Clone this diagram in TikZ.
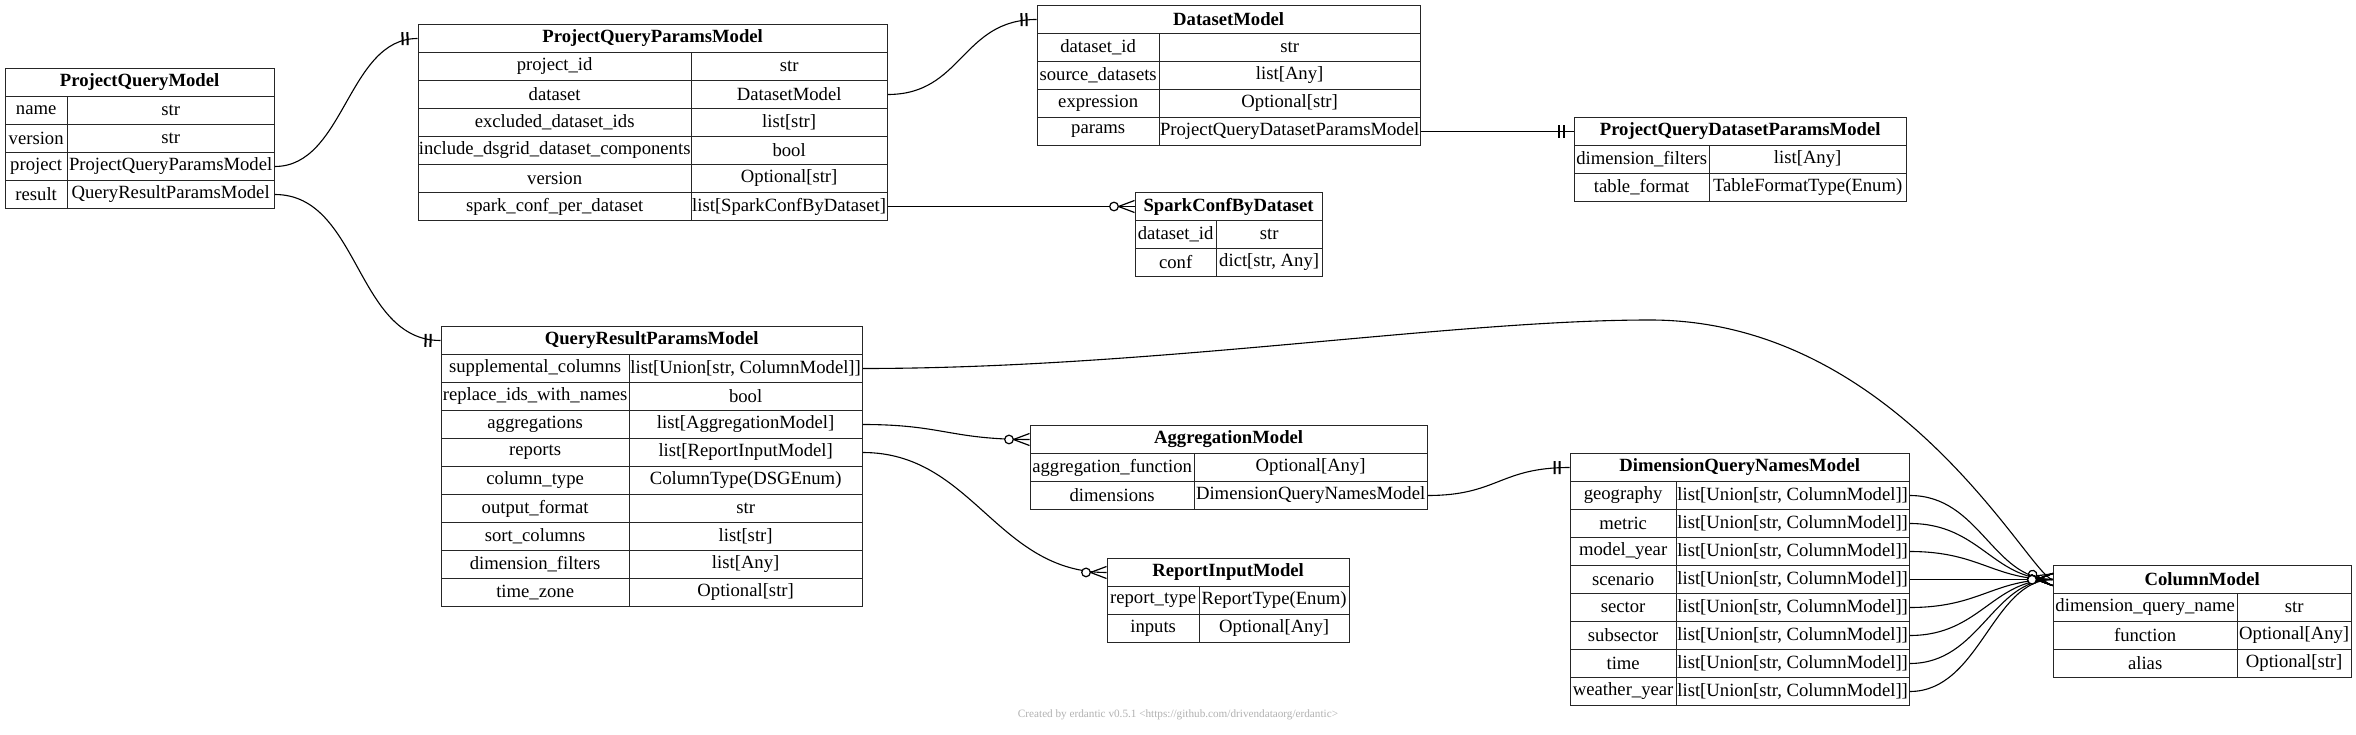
\documentclass[tikz,border=0pt]{standalone}
\usepackage{fontspec}
\setmainfont{Liberation Serif}
\usetikzlibrary{decorations.markings}
\def\rowh{28}

\begin{document}
\begin{tikzpicture}[x=1pt,y=-1pt]
    \tikzstyle{cell}=[draw=black!85,line width=1.3pt,minimum height=\rowh pt,inner sep=0pt,anchor=west,font=\fontsize{18.67}{22}\selectfont]
    \tikzstyle{title cell}=[cell,font=\fontsize{18.67}{22}\selectfont\bfseries]
    \tikzstyle{key cell}=[cell]
    \tikzstyle{type cell}=[cell]
    \tikzstyle{relation}=[draw=black,line width=1.1pt]
    \tikzstyle{exactly one}=[relation,postaction={decorate,decoration={markings,mark=at position -0.5pt with {\draw[line width=2pt] (-9.5pt,-6.5pt) -- (-9.5pt,6.5pt) (-14.5pt,-6.5pt) -- (-14.5pt,6.5pt);}}}]
    \tikzstyle{zero or many}=[relation,postaction={decorate,decoration={markings,mark=at position -0.5pt with {\draw[line width=1.2pt] (-15.5pt,0pt) -- (0.5pt,-6pt) (-15.5pt,0pt) -- (0.5pt,6pt); \draw[line width=1.2pt,fill=white] (-20pt,0pt) circle (4.3pt);}}}]

    \useasboundingbox[fill=white] (0,0) rectangle (2356,735);

    % Draw the ProjectQueryModel table
    \node[title cell, minimum width=269pt] (PQM) at (4.5,{68.5+0.5*\rowh}) {ProjectQueryModel};
    \foreach \field/\ftype [count=\i] in {name/str, version/str, project/ProjectQueryParamsModel, result/QueryResultParamsModel} {
        \node[key cell, minimum width=62pt] (PQM-k\i) at (4.5,{68.5+(\i+0.5)*\rowh}) {\field};
        \node[type cell, minimum width=207pt] (PQM-t\i) at (66.5,{68.5+(\i+0.5)*\rowh}) {\ftype};
    }

    % Draw the ProjectQueryParamsModel table
    \node[title cell, minimum width=469pt] (PQPM) at (417.5,{24.5+0.5*\rowh}) {ProjectQueryParamsModel};
    \foreach \field/\ftype [count=\i] in {project\_id/str, dataset/DatasetModel, excluded\_dataset\_ids/{list[str]}, include\_dsgrid\_dataset\_components/bool, version/{Optional[str]}, spark\_conf\_per\_dataset/{list[SparkConfByDataset]}} {
        \node[key cell, minimum width=273pt] (PQPM-k\i) at (417.5,{24.5+(\i+0.5)*\rowh}) {\field};
        \node[type cell, minimum width=196pt] (PQPM-t\i) at (690.5,{24.5+(\i+0.5)*\rowh}) {\ftype};
    }

    % Draw the DatasetModel table
    \node[title cell, minimum width=383pt] (DM) at (1036.5,{5.5+0.5*\rowh}) {DatasetModel};
    \foreach \field/\ftype [count=\i] in {dataset\_id/str, source\_datasets/{list[Any]}, expression/{Optional[str]}, params/ProjectQueryDatasetParamsModel} {
        \node[key cell, minimum width=122pt] (DM-k\i) at (1036.5,{5.5+(\i+0.5)*\rowh}) {\field};
        \node[type cell, minimum width=261pt] (DM-t\i) at (1158.5,{5.5+(\i+0.5)*\rowh}) {\ftype};
    }

    % Draw the ProjectQueryDatasetParamsModel table
    \node[title cell, minimum width=332pt] (PQDPM) at (1573.5,{117.5+0.5*\rowh}) {ProjectQueryDatasetParamsModel};
    \foreach \field/\ftype [count=\i] in {dimension\_filters/{list[Any]}, table\_format/{TableFormatType(Enum)}} {
        \node[key cell, minimum width=135pt] (PQDPM-k\i) at (1573.5,{117.5+(\i+0.5)*\rowh}) {\field};
        \node[type cell, minimum width=197pt] (PQDPM-t\i) at (1708.5,{117.5+(\i+0.5)*\rowh}) {\ftype};
    }

    % Draw the SparkConfByDataset table
    \node[title cell, minimum width=187pt] (SCBD) at (1134.5,{192.5+0.5*\rowh}) {SparkConfByDataset};
    \foreach \field/\ftype [count=\i] in {dataset\_id/str, conf/{dict[str, Any]}} {
        \node[key cell, minimum width=81pt] (SCBD-k\i) at (1134.5,{192.5+(\i+0.5)*\rowh}) {\field};
        \node[type cell, minimum width=106pt] (SCBD-t\i) at (1215.5,{192.5+(\i+0.5)*\rowh}) {\ftype};
    }

    % Draw the QueryResultParamsModel table
    \node[title cell, minimum width=421pt] (QRPM) at (440.5,{326.5+0.5*\rowh}) {QueryResultParamsModel};
    \foreach \field/\ftype [count=\i] in {supplemental\_columns/{list[Union[str, ColumnModel]]}, replace\_ids\_with\_names/bool, aggregations/{list[AggregationModel]}, reports/{list[ReportInputModel]}, column\_type/{ColumnType(DSGEnum)}, output\_format/str, sort\_columns/{list[str]}, dimension\_filters/{list[Any]}, time\_zone/{Optional[str]}} {
        \node[key cell, minimum width=188pt] (QRPM-k\i) at (440.5,{326.5+(\i+0.5)*\rowh}) {\field};
        \node[type cell, minimum width=233pt] (QRPM-t\i) at (628.5,{326.5+(\i+0.5)*\rowh}) {\ftype};
    }

    % Draw the AggregationModel table
    \node[title cell, minimum width=397pt] (AM) at (1029.5,{425.5+0.5*\rowh}) {AggregationModel};
    \foreach \field/\ftype [count=\i] in {aggregation\_function/{Optional[Any]}, dimensions/DimensionQueryNamesModel} {
        \node[key cell, minimum width=164pt] (AM-k\i) at (1029.5,{425.5+(\i+0.5)*\rowh}) {\field};
        \node[type cell, minimum width=233pt] (AM-t\i) at (1193.5,{425.5+(\i+0.5)*\rowh}) {\ftype};
    }

    % Draw the ReportInputModel table
    \node[title cell, minimum width=242pt] (RIM) at (1106.5,{558.5+0.5*\rowh}) {ReportInputModel};
    \foreach \field/\ftype [count=\i] in {report\_type/{ReportType(Enum)}, inputs/{Optional[Any]}} {
        \node[key cell, minimum width=92pt] (RIM-k\i) at (1106.5,{558.5+(\i+0.5)*\rowh}) {\field};
        \node[type cell, minimum width=150pt] (RIM-t\i) at (1198.5,{558.5+(\i+0.5)*\rowh}) {\ftype};
    }

    % Draw the DimensionQueryNamesModel table
    \node[title cell, minimum width=339pt] (DQNM) at (1569.5,{453.5+0.5*\rowh}) {DimensionQueryNamesModel};
    \foreach \field [count=\i] in {geography, metric, model\_year, scenario, sector, subsector, time, weather\_year} {
        \node[key cell, minimum width=106pt] (DQNM-k\i) at (1569.5,{453.5+(\i+0.5)*\rowh}) {\field};
        \node[type cell, minimum width=233pt] (DQNM-t\i) at (1675.5,{453.5+(\i+0.5)*\rowh}) {list[Union[str, ColumnModel]]};
    }

    % Draw the ColumnModel table
    \node[title cell, minimum width=298pt] (CM) at (2052.5,{565.5+0.5*\rowh}) {ColumnModel};
    \foreach \field/\ftype [count=\i] in {dimension\_query\_name/str, function/{Optional[Any]}, alias/{Optional[str]}} {
        \node[key cell, minimum width=184pt] (CM-k\i) at (2052.5,{565.5+(\i+0.5)*\rowh}) {\field};
        \node[type cell, minimum width=114pt] (CM-t\i) at (2236.5,{565.5+(\i+0.5)*\rowh}) {\ftype};
    }

    % Connect the fields to the models they refer to
    \path[exactly one] (PQM-t3.east) .. controls +(70,0) and +(-70,0) .. (PQPM.west);
    \path[exactly one] (PQM-t4.east) .. controls +(85,0) and +(-85,0) .. (QRPM.west);
    \path[exactly one] (PQPM-t2.east) .. controls +(75,0) and +(-75,0) .. (DM.west);
    \path[zero or many] (PQPM-t6.east) -- (SCBD.west);
    \path[exactly one] (DM-t4.east) -- (PQDPM.west);
    \path[zero or many] (QRPM-t1.east) .. controls +(290,0) and (1450,320) .. (1650,320) .. controls (1900,320) and +(-22,-2) .. (CM.west);
    \path[zero or many] (QRPM-t3.east) .. controls +(80,0) and +(-80,0) .. (AM.west);
    \path[zero or many] (QRPM-t4.east) .. controls +(110,0) and +(-110,0) .. (RIM.west);
    \path[exactly one] (AM-t2.east) .. controls +(70,0) and +(-70,0) .. (DQNM.west);
    \foreach \i in {1,...,8}
        \path[zero or many] (DQNM-t\i.east) .. controls +(70,0) and +(-60,0) .. (CM.west);

    % Credit line
    \node[text=black!30, font=\fontsize{11.2}{13}\selectfont] (credit) at (1178,715) {Created by erdantic v0.5.1 <https://github.com/drivendataorg/erdantic>};
\end{tikzpicture}
\end{document}
